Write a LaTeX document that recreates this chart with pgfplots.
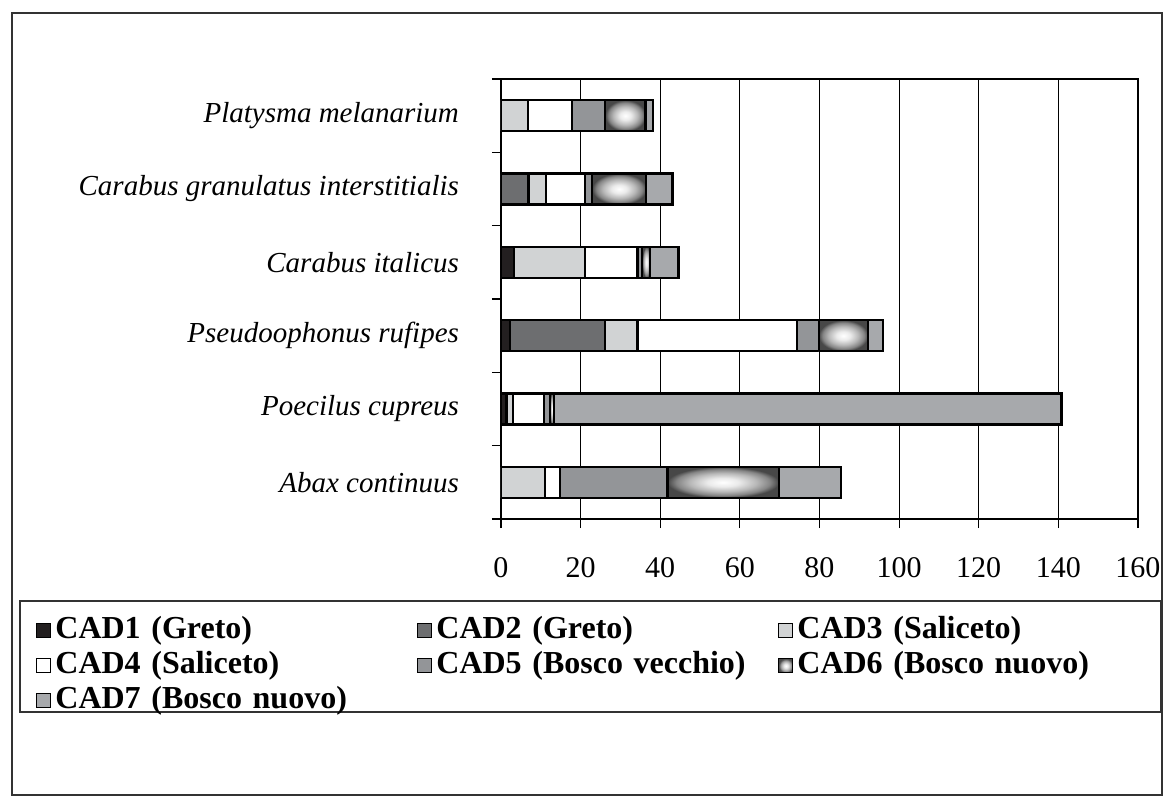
\documentclass[border=0pt]{standalone}
\usepackage{fontspec}
\setmainfont{Liberation Serif}
\usepackage{pgfplots}
\pgfplotsset{compat=1.18}
\definecolor{c1}{HTML}{231F20}
\definecolor{c2}{HTML}{6D6E70}
\definecolor{c3}{HTML}{D1D3D4}
\definecolor{c5}{HTML}{939598}
\definecolor{c6}{HTML}{58595B}
\definecolor{c7}{HTML}{A7A9AC}
\pgfdeclareradialshading{cadsh}{\pgfpoint{0bp}{0bp}}{color(0bp)=(white); color(7bp)=(black!8); color(15bp)=(black!28); color(21bp)=(black!48); color(25bp)=(black!72); color(50bp)=(black!72)}
\begin{document}
\begin{tikzpicture}
\useasboundingbox (0pt,0pt) rectangle (587pt,-404pt);
\draw[line width=1pt, black!80] (6pt,-6.5pt) rectangle (581pt,-397.5pt);
\draw[line width=0.6pt, black!80] (10pt,-300.5pt) rectangle (580.5pt,-356pt);
\begin{axis}[
  at={(250.5pt,-259.5pt)}, anchor=south west,
  width=318.5pt, height=220pt, scale only axis,
  xbar stacked, bar width=15.5pt, reverse stacked plots=false,
  legend image code/.code={\draw[#1, line width=0.5pt] (0pt,-3.5pt) rectangle (7pt,3.5pt);},
  xmin=0, xmax=160, ymin=-0.5, ymax=5.5,
  xtick={0,20,...,160},
  xmajorgrids, grid style={black, line width=0.6pt},
  axis line style={black, line width=0.6pt},
  tick style={black, line width=0.6pt},
  tick align=outside, xtick pos=lower, ytick pos=left,
  major tick length=4.5pt,
  ytick={-0.5,0.5,...,5.5}, yticklabels={},
  extra y ticks={0,1,2,3,4,5},
  extra y tick labels={Abax continuus, Poecilus cupreus, Pseudoophonus rufipes, Carabus italicus, Carabus granulatus interstitialis, Platysma melanarium},
  extra y tick style={major tick length=0pt},
  /pgf/number format/assume math mode=true,
  every tick label/.append style={font=\fontsize{15}{17}\selectfont},
  yticklabel style={font=\itshape\fontsize{14.5}{17}\selectfont, xshift=-17.5pt},
  xticklabel style={yshift=-11pt},
  legend columns=3,
  legend style={draw=none, fill=none, at={(-0.7394,-0.2045)}, anchor=north west,
    font=\bfseries\fontsize{16}{18}\selectfont, column sep=0pt, row sep=0pt,
    nodes={inner xsep=2pt, inner ysep=2pt, text width=174pt, align=left, text height=10.5pt, text depth=3pt},
    /tikz/column 2/.append style={nodes={text width=179pt}},
    /tikz/column 4/.append style={nodes={text width=169pt}}},
  seg/.style={draw=black, line width=1.1pt},
  ov/.style={stack plots=false, sharp plot, no markers, forget plot, draw=black, line width=1.1pt, line join=miter, shade, shading=cadsh},
]
\addplot[seg, fill=c1] coordinates {(0,0) (1.2,1) (2.3,2) (3.2,3) (0,4) (0,5)};
\addplot[seg, fill=c2] coordinates {(0,0) (0.3,1) (23.9,2) (0,3) (6.9,4) (0,5)};
\addplot[seg, fill=c3] coordinates {(11.1,0) (1.5,1) (8.1,2) (18,3) (4.4,4) (6.7,5)};
\addplot[seg, fill=white] coordinates {(3.8,0) (7.8,1) (40,2) (13.1,3) (9.9,4) (11.2,5)};
\addplot[seg, fill=c5] coordinates {(26.9,0) (1.5,1) (5.5,2) (1.2,3) (1.7,4) (8.3,5)};
\addplot[seg, shade, shading=cadsh] coordinates {(28,0) (1.0,1) (12.4,2) (2,3) (13.6,4) (10.1,5)};
\addplot[seg, fill=c7] coordinates {(15.6,0) (127.5,1) (3.8,2) (7.1,3) (6.6,4) (1.9,5)};
% CAD6 segments redrawn one by one so that each gets its own radial shading
\addplot[ov] coordinates {(41.8,-0.2114) (69.8,-0.2114) (69.8,0.2114) (41.8,0.2114) (41.8,-0.2114)};
\addplot[ov] coordinates {(12.3,0.7886) (13.3,0.7886) (13.3,1.2114) (12.3,1.2114) (12.3,0.7886)};
\addplot[ov] coordinates {(79.8,1.7886) (92.2,1.7886) (92.2,2.2114) (79.8,2.2114) (79.8,1.7886)};
\addplot[ov] coordinates {(35.5,2.7886) (37.5,2.7886) (37.5,3.2114) (35.5,3.2114) (35.5,2.7886)};
\addplot[ov] coordinates {(22.9,3.7886) (36.5,3.7886) (36.5,4.2114) (22.9,4.2114) (22.9,3.7886)};
\addplot[ov] coordinates {(26.2,4.7886) (36.3,4.7886) (36.3,5.2114) (26.2,5.2114) (26.2,4.7886)};
\legend{CAD1 (Greto), CAD2 (Greto), CAD3 (Saliceto), CAD4 (Saliceto), CAD5 (Bosco vecchio), CAD6 (Bosco nuovo), CAD7 (Bosco nuovo)}
\end{axis}
\end{tikzpicture}
\end{document}
